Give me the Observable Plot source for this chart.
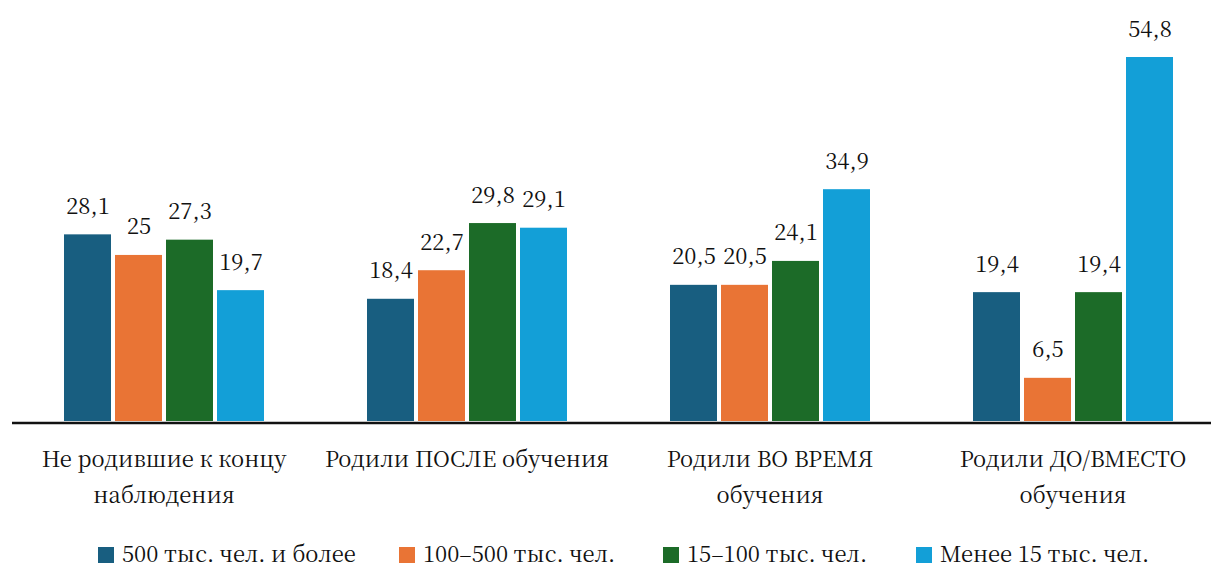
<!DOCTYPE html>
<html>
<head>
<meta charset="utf-8">
<script src="https://cdn.jsdelivr.net/npm/d3@7"></script>
<script src="https://cdn.jsdelivr.net/npm/@observablehq/plot@0.6"></script>
<style>
  body { margin: 0; background: #fff; }
  #chart svg { display: block; }
  #legend { position: relative; height: 28px; font-size: 22px; color: #111; font-family: "Noto Serif CJK SC", serif; }
  .item { position: absolute; top: 2px; height: 24px; display: flex; align-items: center; gap: 8px; white-space: nowrap; }
  .sw { width: 16px; height: 16px; display: inline-block; position: relative; top: 3px; }
</style>
</head>
<body>
<div id="chart"></div>
<div id="legend"></div>
<script>
const groups = ["Не родившие к концу\nнаблюдения", "Родили ПОСЛЕ обучения", "Родили ВО ВРЕМЯ\nобучения", "Родили ДО/ВМЕСТО\nобучения"];
const series = ["500 тыс. чел. и более", "100–500 тыс. чел.", "15–100 тыс. чел.", "Менее 15 тыс. чел."];
const colors = ["#185e80", "#e97435", "#1c6b28", "#139fd7"];
const s500 = [28.1, 18.4, 20.5, 19.4];
const s100 = [25, 22.7, 20.5, 6.5];
const s15 = [27.3, 29.8, 24.1, 19.4];
const sLess = [19.7, 29.1, 34.9, 54.8];
const legendLeft = [98, 399, 663, 916];

const seriesValues = [s500, s100, s15, sLess];
const data = [];
groups.forEach((g, gi) => series.forEach((s, si) => data.push({group: g, series: s, value: seriesValues[si][gi]})));

const fmt = v => String(v).replace(".", ",");
const FONT = "Noto Serif CJK SC";

const plot = Plot.plot({
  width: 1211,
  height: 538,
  marginTop: 57,
  marginBottom: 117,
  marginLeft: 0,
  marginRight: 0,
  style: {fontFamily: FONT, fontSize: "22px", color: "#111"},
  fx: {domain: groups, range: [12, 1224], padding: 0, axis: null},
  x: {domain: series, paddingInner: 0.08, paddingOuter: 1.0, axis: null},
  y: {domain: [0, 54.8], axis: null},
  color: {domain: series, range: colors},
  marks: [
    Plot.barY(data, {fx: "group", x: "series", y: "value", fill: "series"}),
    Plot.ruleY([0], {stroke: "#111", strokeWidth: 2.5, dy: 1.5}),
    Plot.text(data, {fx: "group", x: "series", y: "value", text: d => fmt(d.value), dy: -28, fontSize: 22, fontFamily: FONT, fill: "#111"}),
    Plot.text(groups, {fx: d => d, text: d => d, frameAnchor: "bottom", lineAnchor: "top", dy: 20, lineHeight: 1.64, fontSize: 22, fontFamily: FONT, fill: "#111"})
  ]
});
document.getElementById("chart").appendChild(plot);

const legend = document.getElementById("legend");
series.forEach((s, i) => {
  const item = document.createElement("div");
  item.className = "item";
  item.style.left = legendLeft[i] + "px";
  const sw = document.createElement("span");
  sw.className = "sw";
  sw.style.background = colors[i];
  const label = document.createElement("span");
  label.textContent = s;
  item.appendChild(sw);
  item.appendChild(label);
  legend.appendChild(item);
});
</script>
</body>
</html>
